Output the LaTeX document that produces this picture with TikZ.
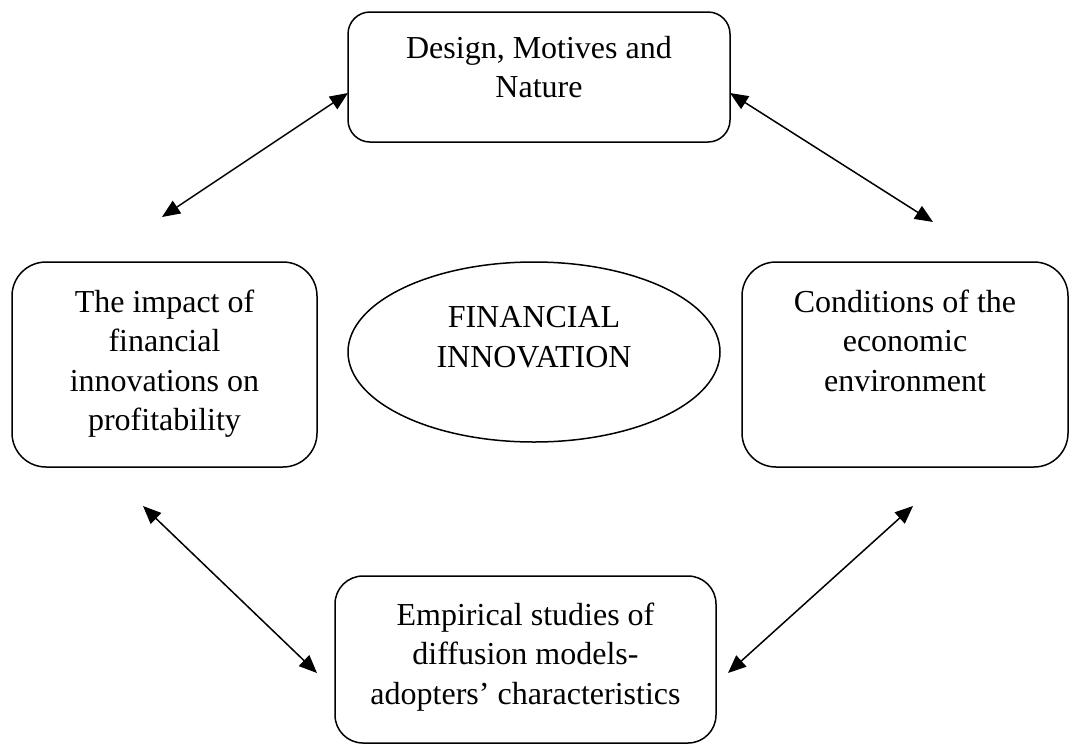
\documentclass[tikz,border=0pt]{standalone}
\usepackage{fontspec}
\setmainfont{Liberation Serif}
\usetikzlibrary{arrows.meta,shapes.geometric,calc}
\tikzset{
  box/.style={draw, line width=1.5pt, inner sep=0pt, outer sep=0pt},
  oval/.style={draw, ellipse, line width=1.5pt, inner sep=0pt, minimum width=372pt, minimum height=180pt},
  arr/.style={line width=1.5pt, {Triangle[length=18pt,width=15pt]}-{Triangle[length=18pt,width=15pt]}},
  fnt/.style={font=\fontsize{32}{39.5}\selectfont}
}
\newcommand{\boxtext}[4]{\parbox[c][#2][t]{#1}{\centering\rule{0pt}{#3}#4}}
\begin{document}
\begin{tikzpicture}[x=1pt,y=-1pt]
\useasboundingbox (0,0) rectangle (1070,745);
% boxes
\node[box, fnt, rounded corners=22pt] (T) at (539,77)
  {\boxtext{382pt}{130pt}{46pt}{Design, Motives and\\Nature}};
\node[box, fnt, rounded corners=34pt] (L) at (164.5,364.5)
  {\boxtext{305pt}{205pt}{50pt}{The impact of\\financial\\innovations on\\profitability}};
\node[box, fnt, rounded corners=34pt] (R) at (905,364.5)
  {\boxtext{326pt}{205pt}{50pt}{Conditions of the\\economic\\environment}};
\node[box, fnt, rounded corners=28pt] (B) at (525.5,659.5)
  {\boxtext{381pt}{167pt}{49pt}{Empirical studies of\\diffusion models-\\adopters’ characteristics}};
\node[oval, fnt, align=center] (E) at (534,352)
  {FINANCIAL\\[0.5pt]INNOVATION\rule[-31pt]{0pt}{0pt}};
% free arrow ends
\coordinate (tl) at (162,217);
\coordinate (tr) at (933,222);
\coordinate (bl) at (143,506);
\coordinate (br) at (913,506);
% connectors
\draw[arr] ($(T.north west)+(0,81)$) -- (tl);
\draw[arr] ($(T.north east)+(0,81)$) -- (tr);
\draw[arr] (bl) -- ($(B.north west)+(-18,97)$);
\draw[arr] (br) -- ($(B.north east)+(12,97)$);
\end{tikzpicture}
\end{document}
